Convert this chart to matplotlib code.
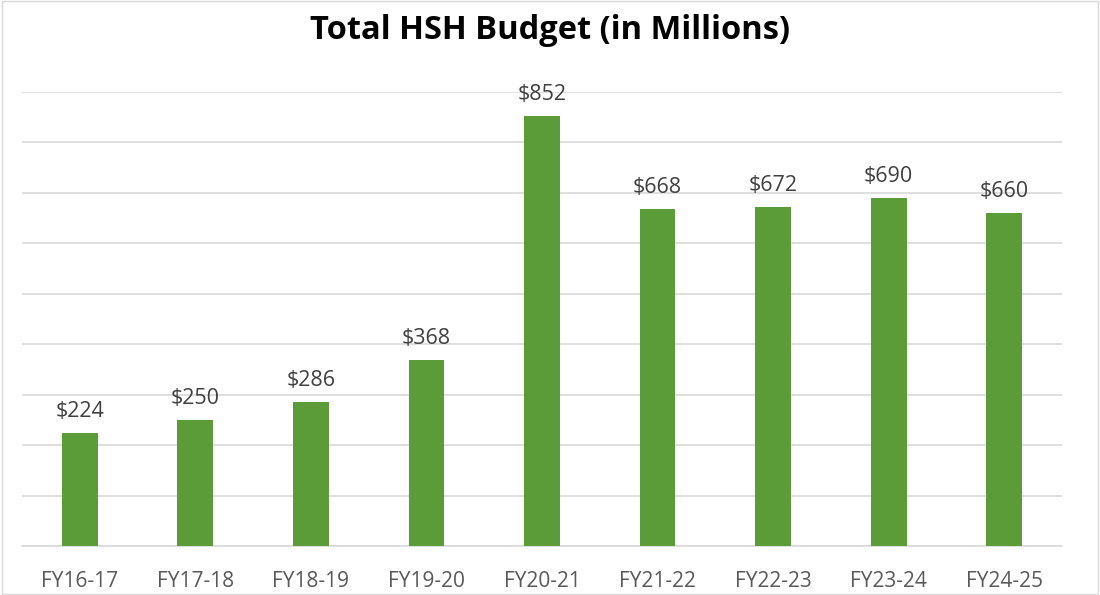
import matplotlib.pyplot as plt
from matplotlib.patches import Rectangle

# Data
years = ["FY16-17", "FY17-18", "FY18-19", "FY19-20", "FY20-21",
         "FY21-22", "FY22-23", "FY23-24", "FY24-25"]
budget = [224, 250, 286, 368, 852, 668, 672, 690, 660]

plt.rcParams['font.family'] = ['Open Sans', 'DejaVu Sans']

fig = plt.figure(figsize=(11, 5.95), dpi=100)
ax = fig.add_axes([0.02, 0.0824, 0.9455, 0.763])

x = range(len(years))
bars = ax.bar(x, budget, width=0.31, color="#5B9B38", zorder=3)

for rect, val in zip(bars, budget):
    ax.text(rect.get_x() + rect.get_width() / 2, val + 22, f"${val}",
            ha="center", va="bottom", fontsize=15.5, color="#404040")

ax.set_xlim(-0.5, len(years) - 0.5)
ax.set_ylim(0, 900)
ax.set_yticks(range(0, 901, 100))
ax.set_yticklabels([])
ax.grid(axis="y", color="#D9D9D9", linewidth=1.2, zorder=0)
ax.set_xticks(list(x))
ax.set_xticklabels(years, fontsize=15, color="#595959")
ax.tick_params(length=0, pad=18)
for side in ["top", "right", "left"]:
    ax.spines[side].set_visible(False)
ax.spines["bottom"].set_color("#D9D9D9")
ax.spines["bottom"].set_linewidth(1.2)

fig.text(0.5, 0.948, "Total HSH Budget (in Millions)", ha="center", va="center",
         fontsize=23.5, fontweight="bold", color="black")

# thin grey chart border
fig.patches.append(Rectangle((0.002, 0.002), 0.996, 0.996, transform=fig.transFigure,
                             fill=False, edgecolor="#D9D9D9", linewidth=1))

fig.savefig("out.png", dpi=100)
